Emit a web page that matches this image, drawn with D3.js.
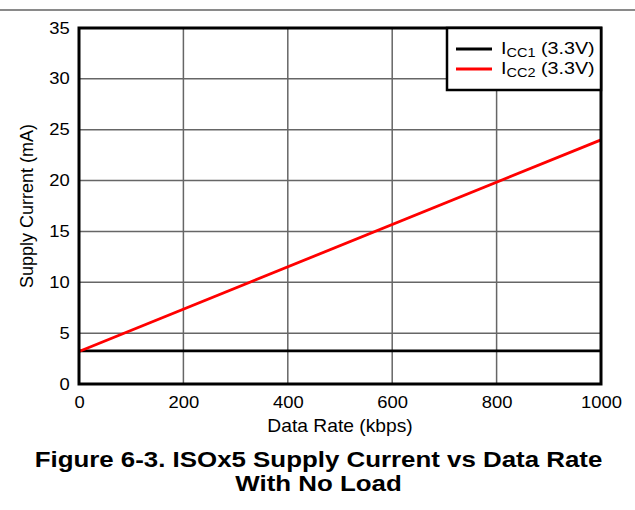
<!DOCTYPE html>
<html><head><meta charset="utf-8">
<script src="https://cdn.jsdelivr.net/npm/d3@7"></script>
<style>body{margin:0;background:#fff;} svg{display:block;font-family:"Liberation Sans",Arial,sans-serif;}</style>
</head><body>
<svg id="c" width="635" height="510"></svg>
<script>
const xTicks = [0,200,400,600,800,1000];
const yTicks = [0,5,10,15,20,25,30,35];
const dataRate = [0, 1000];
const icc1 = [3.25, 3.25];
const icc2 = [3.2, 24.0];
const seriesNames = ["CC1","CC2"];
const seriesColors = ["#000000","#ff0000"];

const svg = d3.select("#c");
const L=79, R=601, T=28, B=384;
const SX = 1.15;
const x = d3.scaleLinear().domain([0,1000]).range([L,R]);
const y = d3.scaleLinear().domain([0,35]).range([B,T]);

svg.append("line").attr("x1",0).attr("x2",635).attr("y1",10).attr("y2",10).attr("stroke","#8a8a8a").attr("stroke-width",2);

const g = svg.append("g");
g.selectAll(".vg").data(xTicks).join("line").attr("x1",d=>x(d)).attr("x2",d=>x(d)).attr("y1",T).attr("y2",B).attr("stroke","#666").attr("stroke-width",1.5);
g.selectAll(".hg").data(yTicks).join("line").attr("x1",L).attr("x2",R).attr("y1",d=>y(d)).attr("y2",d=>y(d)).attr("stroke","#666").attr("stroke-width",1.5);

const xAxis = svg.append("g").attr("transform",`translate(0,${B})`).call(d3.axisBottom(x).tickValues(xTicks).tickFormat(d3.format("d")).tickSize(0).tickPadding(13));
const yAxis = svg.append("g").attr("transform",`translate(${L},0)`).call(d3.axisLeft(y).tickValues(yTicks).tickFormat(d3.format("d")).tickSize(0).tickPadding(8));
[xAxis,yAxis].forEach(a=>{a.select(".domain").remove();a.selectAll("text").attr("font-size",16).attr("fill","#000").attr("font-family","Liberation Sans, Arial, sans-serif").attr("transform",`scale(${SX},1)`);});

const line = d3.line().x(d=>x(d[0])).y(d=>y(d[1]));
const series = [icc1, icc2];
series.forEach((s,i)=>{
  svg.append("path").datum(dataRate.map((r,j)=>[r,s[j]])).attr("d",line).attr("fill","none").attr("stroke",seriesColors[i]).attr("stroke-width",2.8);
});

svg.append("rect").attr("x",L).attr("y",T).attr("width",R-L).attr("height",B-T).attr("fill","none").attr("stroke","#000").attr("stroke-width",3);

function stext(px,py,size,sx,anchor,weight){
  return svg.append("text").attr("transform",`translate(${px},${py}) scale(${sx},1)`).attr("text-anchor",anchor).attr("font-size",size).attr("font-weight",weight||"normal").attr("fill","#000");
}

// legend
const lg = svg.append("g");
lg.append("rect").attr("x",447).attr("y",T).attr("width",R-447).attr("height",62).attr("fill","#fff").attr("stroke","#000").attr("stroke-width",2.5);
seriesNames.forEach((n,i)=>{
  const yy = 49 + i*20;
  lg.append("line").attr("x1",456).attr("x2",492).attr("y1",yy).attr("y2",yy).attr("stroke",seriesColors[i]).attr("stroke-width",2.8);
  const t = stext(501,yy+5,17,1.16,"start");
  t.append("tspan").text("I");
  t.append("tspan").attr("font-size",12.5).attr("dy",3).text(n);
  t.append("tspan").attr("dy",-3).text(" (3.3V)");
});

stext((L+R)/2,432,17.5,1.1,"middle").text("Data Rate (kbps)");
svg.append("text").attr("transform",`translate(33,${(T+B)/2}) rotate(-90)`).attr("text-anchor","middle").attr("font-size",18).text("Supply Current (mA)");
stext(318.5,467,22.5,1.15,"middle","bold").text("Figure 6-3. ISOx5 Supply Current vs Data Rate");
stext(318.5,491,22.5,1.15,"middle","bold").text("With No Load");
</script>
</body></html>
